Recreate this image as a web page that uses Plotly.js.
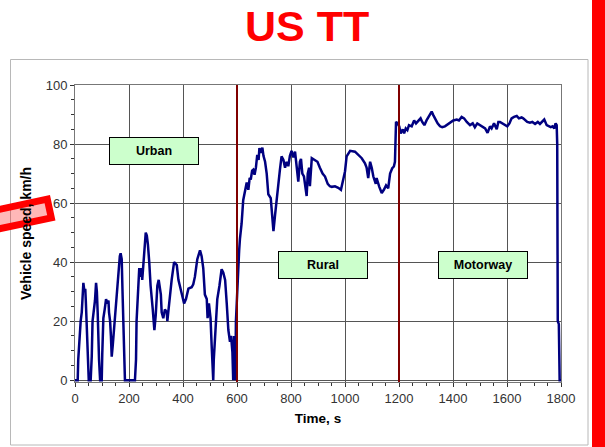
<!DOCTYPE html>
<html>
<head>
<meta charset="utf-8">
<script src="https://cdn.plot.ly/plotly-3.0.1.min.js"></script>
<style>html,body{margin:0;padding:0;background:#fff;}#chart{width:605px;height:447px;}</style>
</head>
<body>
<div id="chart"></div>
<script>
// ---- data ----
var urbanTime = [0,10,12,16,21,25,28,31,35,38,40,43,47,51,58,62,65,70,74,78,81,84,86,89,93,99,101,103,105,110,115,120,124,126,130,133,136,140,144,148,154,158,162,166,169,173,176,179,182,185,222,226,228,234,238,242,246,249,253,259,262,266,270,275,280,288,294,299,305,310,318,321,327,333,340,342,346,352,358,367,377,383,395,404,411,420,432,438,444,453,463,469,475,481,488,491,496,502,506,509,512,514,519,523,527,535,543,549,556,562,568,574,578,583,586,589,591,594,596];
var urbanSpeed = [0,0,7,14,20,23,30,33,30,31,27,21,10,0,0,8,20,23,27,33,30,23,15,7,0,0,9,15,21,24,27.5,26,27,23,20,15,8,12,17,20,27.5,33,40,42,43,41,30,21,10,0,0,7,20,32,38,35,38,34,40,47,50,49,46,40,32,24,17,22,32,34,29,23,21,24,23,20,24,29,34,40,39,34,29,26,27.5,31,31.5,32.5,35,41,44,42,38,29,27.5,21,26,21,12,5,0,7,14,23,27.5,32,37.6,36.5,34,26,17,13,15,9.5,0,15,3,0,20];
var ruralTime = [600,605,608,611,617,623,630,636,642,647,651,656,660,665,670,675,680,683,688,694,698,704,710,716,725,731,735,741,747,753,759,765,772,778,784,790,796,802,809,815,821,827,833,837,842,848,858,862,867,870,877,889,898,907,917,926,936,944,951,963,975,985,994,1000,1006,1019,1037,1049,1062,1074,1080,1086,1093,1099,1105,1114,1117,1127,1136,1144,1152,1160,1167,1175,1181,1185];
var ruralSpeed = [30,37,44,48,53,61,65,67,64.5,68.5,68,71,71.3,69.6,72,76.3,74.6,78.6,77,78.8,76,74,70,63,61.7,56,50.5,56,61.7,66,71.3,75.8,74.6,72,74,72.5,76,77.7,75.5,77.4,72,67.3,74,75,70,69,62.4,70,72,65.7,75.2,74.6,74,72,70,69,66.5,65.7,65.5,65.7,65.2,64.5,68.5,70.7,75.8,77.7,77.4,76.3,75.2,73.5,72,68.5,74,72,69,66.5,68.5,65.5,63.4,64.5,66,65,70,71.8,72.4,74];
var motorwayTime = [1187,1189,1195,1201,1206,1214,1219,1225,1231,1237,1247,1256,1263,1272,1280,1286,1294,1302,1312,1321,1327,1336,1343,1352,1360,1370,1383,1391,1401,1414,1422,1432,1441,1451,1463,1473,1481,1490,1500,1509,1519,1528,1537,1543,1552,1562,1568,1574,1583,1593,1601,1609,1617,1626,1636,1644,1654,1660,1667,1675,1685,1694,1704,1714,1722,1731,1738,1747,1756,1762,1769,1775,1780,1784,1786,1788,1792,1795,1800];
var motorwaySpeed = [80,87.5,87,86,83.6,85,83.6,85.3,84.7,86.4,86,88,87,88,88.7,87.5,86.4,88,89.8,91,89.8,88,87,86,85.7,86,86.8,87.4,88,88.3,88,89.2,88.7,87.5,86.4,87,85.7,87,86.4,86,85.3,83.8,86,85.3,87,85,87.5,87.5,87,86.4,86,87,88.7,89.2,89.5,88.7,89,88.7,88,87.5,87.2,87.5,86.8,87.5,86.8,87.5,88.3,86.4,86,85.7,86,85.3,87,86.4,80,20,19,0,0];
var phaseBounds = [600, 1200];
var phaseNames = ['Urban', 'Rural', 'Motorway'];
var xTicks = [0,200,400,600,800,1000,1200,1400,1600,1800];
var yTicks = [0,20,40,60,80,100];

// ---- chart ----
var FONT = 'Liberation Sans, Arial, sans-serif';
var time = urbanTime.concat(ruralTime, motorwayTime);
var speed = urbanSpeed.concat(ruralSpeed, motorwaySpeed);

var trace = {
  x: time, y: speed, type: 'scatter', mode: 'lines',
  line: {color: '#000080', width: 2.5}, hoverinfo: 'skip', showlegend: false
};

function px(v){ return (v - 75) / 486; }
function py(v){ return (382 - v) / 297; }

var shapes = [];
// chart-area border
shapes.push({type:'rect', xref:'paper', yref:'paper', x0:px(10.5), x1:px(588), y0:py(445), y1:py(59.5),
  line:{color:'#b8b8b8', width:1}, fillcolor:'rgba(0,0,0,0)', layer:'below'});
// phase boundary lines
phaseBounds.forEach(function(b){
  shapes.push({type:'line', xref:'x', yref:'paper', x0:b, x1:b, y0:0, y1:1,
    line:{color:'#800000', width:2}, layer:'above'});
});
// right red bar
shapes.push({type:'rect', xref:'paper', yref:'paper', x0:px(592), x1:px(607), y0:py(449), y1:py(-2),
  line:{width:0}, fillcolor:'#ff0000', layer:'above'});
// tilted red highlight box over the y title
shapes.push({type:'path', xref:'paper', yref:'paper',
  path:'M '+px(-31)+' '+py(215.8)+' L '+px(47.3)+' '+py(199.2)+' L '+px(51.3)+' '+py(217.8)+' L '+px(-27)+' '+py(234.4)+' Z',
  line:{color:'#ff0000', width:7}, fillcolor:'rgba(255,0,0,0.28)', layer:'above'});

var boxPos = [[294, 77.8], [919, 38.9], [1511, 38.9]];
var annotations = [{
  xref:'paper', yref:'paper', x:px(307), y:py(26), xanchor:'center', yanchor:'middle',
  text:'<b>US TT</b>', showarrow:false, font:{family:FONT, size:43, color:'#ff0000'}
}];
phaseNames.forEach(function(n, i){
  annotations.push({xref:'x', yref:'y', x:boxPos[i][0], y:boxPos[i][1], xanchor:'center', yanchor:'middle',
    text:'<b>'+n+'</b>', showarrow:false, bgcolor:'#ccffcc', bordercolor:'#000', borderwidth:1, borderpad:0,
    width:88, height:26, font:{family:FONT, size:12.5, color:'#000'}});
});

var layout = {
  width:605, height:447,
  margin:{l:75, r:44, t:85, b:65, pad:0},
  paper_bgcolor:'#fff', plot_bgcolor:'#fff',
  font:{family:FONT, color:'#333'},
  xaxis:{range:[0,1800], tickvals:xTicks, ticktext:xTicks.map(String), showgrid:true, gridcolor:'#555', gridwidth:1,
    showline:true, linecolor:'#777', mirror:true, zeroline:false,
    ticks:'outside', ticklen:4, tickcolor:'#333',
    minor:{dtick:50, tick0:0, ticks:'outside', ticklen:3, tickcolor:'#333', showgrid:false},
    tickfont:{family:FONT, size:13, color:'#333'},
    title:{text:'<b>Time, s</b>', font:{family:FONT, size:13.5, color:'#000'}, standoff:8}},
  yaxis:{range:[-0.6,100], tickvals:yTicks, ticktext:yTicks.map(String), showgrid:true, gridcolor:'#555', gridwidth:1,
    showline:true, linecolor:'#777', mirror:true, zeroline:false,
    ticks:'outside', ticklen:4, tickcolor:'#333',
    minor:{dtick:5, tick0:0, ticks:'outside', ticklen:3, tickcolor:'#333', showgrid:false},
    tickfont:{family:FONT, size:13, color:'#333'},
    title:{text:'<b>Vehicle speed, km/h</b>', font:{family:FONT, size:14, color:'#000'}, standoff:10}},
  shapes:shapes,
  annotations:annotations,
  showlegend:false
};

Plotly.newPlot('chart', [trace], layout, {staticPlot:true, displayModeBar:false});
</script>
</body>
</html>
